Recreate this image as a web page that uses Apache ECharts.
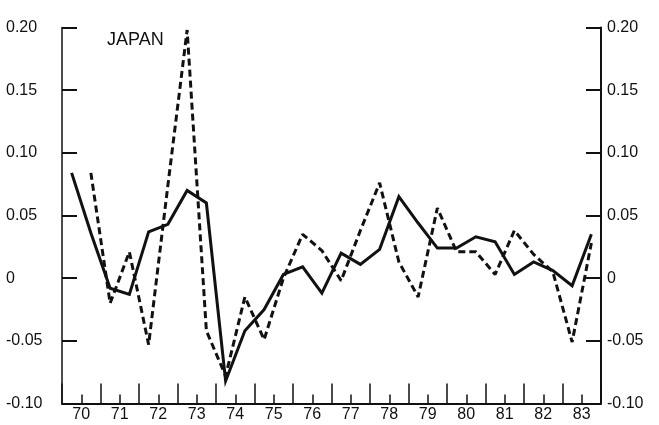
<!DOCTYPE html>
<html>
<head>
<meta charset="utf-8">
<script src="https://cdn.jsdelivr.net/npm/echarts@6/dist/echarts.min.js"></script>
<style>
  html, body { margin: 0; padding: 0; background: #ffffff; }
  #chart { width: 659px; height: 425px; }
</style>
</head>
<body>
<div id="chart"></div>
<script>
// Half-year observation points (mid-point of each half, in years 19xx)
const periods = [
  69.75, 70.25, 70.75, 71.25, 71.75, 72.25, 72.75, 73.25, 73.75, 74.25,
  74.75, 75.25, 75.75, 76.25, 76.75, 77.25, 77.75, 78.25, 78.75, 79.25,
  79.75, 80.25, 80.75, 81.25, 81.75, 82.25, 82.75, 83.25
];

// Solid series
const solidValues = [
  0.084, 0.036, -0.008, -0.013, 0.037, 0.043, 0.070, 0.060, -0.082, -0.042,
  -0.025, 0.003, 0.009, -0.012, 0.020, 0.011, 0.023, 0.065, 0.044, 0.024,
  0.024, 0.033, 0.029, 0.003, 0.013, 0.006, -0.006, 0.035
];

// Dashed series (starts in the second half of 1970)
const dashedValues = [
  null, 0.084, -0.020, 0.021, -0.053, 0.074, 0.198, -0.042, -0.078, -0.015,
  -0.049, 0.000, 0.035, 0.022, -0.002, 0.038, 0.076, 0.013, -0.015, 0.056,
  0.021, 0.021, 0.003, 0.038, 0.019, 0.005, -0.051, 0.028
];

// Year tick labels along the bottom
const yearLabels = ['70', '71', '72', '73', '74', '75', '76', '77', '78', '79', '80', '81', '82', '83'];

// Value axis range and step
const yMin = -0.10, yMax = 0.20, yStep = 0.05;

const FONT = "'Liberation Sans', Arial, sans-serif";
const INK = '#111111';

function pairs(values) {
  const out = [];
  values.forEach((v, i) => { if (v !== null) out.push([periods[i], v]); });
  return out;
}

function yLabel(v) {
  if (Math.abs(v) < 1e-9) return '0';
  return v.toFixed(2);
}

const chart = echarts.init(document.getElementById('chart'), null, { renderer: 'canvas' });

chart.setOption({
  animation: false,
  backgroundColor: '#ffffff',
  grid: { left: 62, right: 58, top: 27.5, height: 376, containLabel: false },
  graphic: [{
    type: 'text',
    left: 107,
    top: 31,
    style: { text: 'JAPAN', fill: INK, font: "18px " + FONT }
  }],
  xAxis: [
    {
      // half-year steps: short ticks, year labels at whole years
      type: 'value',
      min: 69.5,
      max: 83.5,
      interval: 0.5,
      position: 'bottom',
      axisLine: { show: true, onZero: false, lineStyle: { color: INK, width: 2 } },
      axisTick: { show: true, inside: true, length: 9, lineStyle: { color: INK, width: 1.5 } },
      splitLine: { show: false },
      axisLabel: {
        show: true,
        margin: 3,
        color: INK,
        fontFamily: FONT,
        fontSize: 16,
        showMinLabel: false,
        showMaxLabel: false,
        formatter: function (v) {
          const r = Math.round(v);
          if (Math.abs(v - r) > 1e-6) return '';
          const s = String(r);
          return yearLabels.indexOf(s) >= 0 ? s : '';
        }
      }
    },
    {
      // year boundaries: tall ticks
      type: 'value',
      min: 0,
      max: 14,
      interval: 1,
      position: 'bottom',
      axisLine: { show: false, onZero: false },
      axisTick: { show: true, inside: true, length: 20, lineStyle: { color: INK, width: 1.5 } },
      axisLabel: { show: false },
      splitLine: { show: false }
    }
  ],
  yAxis: [
    {
      type: 'value',
      position: 'left',
      min: yMin,
      max: yMax,
      interval: yStep,
      axisLine: { show: true, onZero: false, lineStyle: { color: INK, width: 1.5 } },
      axisTick: { show: true, inside: true, length: 15, lineStyle: { color: INK, width: 2 } },
      splitLine: { show: false },
      axisLabel: {
        margin: 56,
        align: 'left',
        color: INK,
        fontFamily: FONT,
        fontSize: 16,
        formatter: yLabel
      }
    },
    {
      type: 'value',
      position: 'right',
      min: yMin,
      max: yMax,
      interval: yStep,
      axisLine: { show: true, onZero: false, lineStyle: { color: INK, width: 2 } },
      axisTick: { show: true, inside: true, length: 15, lineStyle: { color: INK, width: 2 } },
      splitLine: { show: false },
      axisLabel: {
        margin: 6,
        align: 'left',
        color: INK,
        fontFamily: FONT,
        fontSize: 16,
        formatter: yLabel
      }
    }
  ],
  series: [
    {
      name: 'solid',
      type: 'line',
      xAxisIndex: 0,
      yAxisIndex: 0,
      data: pairs(solidValues),
      symbol: 'none',
      lineStyle: { color: INK, width: 3, type: 'solid', join: 'miter' },
      z: 3
    },
    {
      name: 'dashed',
      type: 'line',
      xAxisIndex: 0,
      yAxisIndex: 0,
      data: pairs(dashedValues),
      symbol: 'none',
      lineStyle: { color: INK, width: 3, type: [7, 4] },
      z: 2
    }
  ]
});
</script>
</body>
</html>
